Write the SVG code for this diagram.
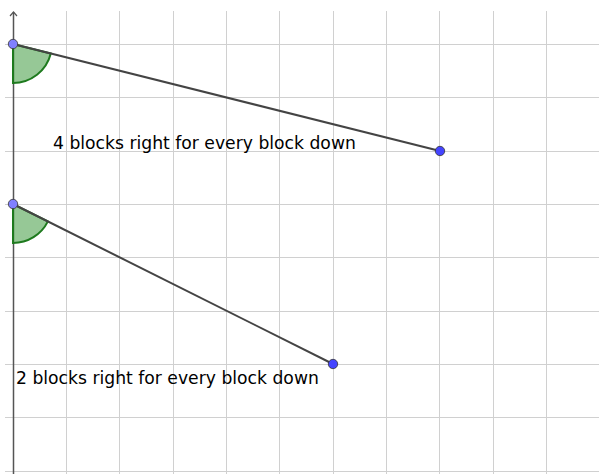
<svg xmlns="http://www.w3.org/2000/svg" width="599" height="474" viewBox="0 0 599 474">
<style>
.grid line{stroke:#d0d0d0;stroke-width:1}
.seg{stroke:#444;stroke-width:2}
.angle{fill:#3f9a3f;fill-opacity:0.55;stroke:#1e7a1e;stroke-width:2}
.p1{fill:#8080ff;stroke:#333;stroke-width:0.8}
.p2{fill:#4444ff;stroke:#333;stroke-width:0.8}
text{font-family:"DejaVu Sans",sans-serif;font-size:17.2px;fill:#000}
</style>
<rect width="599" height="474" fill="#fff"/>
<g class="grid">
<line x1="66.5" y1="11" x2="66.5" y2="474"/>
<line x1="119.5" y1="11" x2="119.5" y2="474"/>
<line x1="173.5" y1="11" x2="173.5" y2="474"/>
<line x1="226.5" y1="11" x2="226.5" y2="474"/>
<line x1="279.5" y1="11" x2="279.5" y2="474"/>
<line x1="333.5" y1="11" x2="333.5" y2="474"/>
<line x1="386.5" y1="11" x2="386.5" y2="474"/>
<line x1="439.5" y1="11" x2="439.5" y2="474"/>
<line x1="493.5" y1="11" x2="493.5" y2="474"/>
<line x1="546.5" y1="11" x2="546.5" y2="474"/>
<line x1="5" y1="44.5" x2="599" y2="44.5"/>
<line x1="5" y1="97.5" x2="599" y2="97.5"/>
<line x1="5" y1="151.5" x2="599" y2="151.5"/>
<line x1="5" y1="204.5" x2="599" y2="204.5"/>
<line x1="5" y1="257.5" x2="599" y2="257.5"/>
<line x1="5" y1="311.5" x2="599" y2="311.5"/>
<line x1="5" y1="364.5" x2="599" y2="364.5"/>
<line x1="5" y1="417.5" x2="599" y2="417.5"/>
<line x1="5" y1="471.5" x2="599" y2="471.5"/>
</g>
<g id="axis">
<line x1="13.5" y1="12" x2="13.5" y2="474" stroke="#555" stroke-width="1.5"/>
<polyline points="10,16 13.5,12 17,16" fill="none" stroke="#555" stroke-width="1.2"/>
</g>
<g id="angle1"><path class="angle" d="M13,44 L13,83 A39,39 0 0 0 50.8,53.5 Z"/></g>
<g id="angle2"><path class="angle" d="M13,204 L13,243 A39,39 0 0 0 47.9,221.4 Z"/></g>
<g id="connectors">
<line class="seg" x1="13" y1="44" x2="440" y2="151"/>
<line class="seg" x1="13" y1="204" x2="333" y2="364"/>
</g>
<g id="pointA"><circle class="p1" cx="13" cy="44" r="4.7"/></g>
<g id="pointB"><circle class="p2" cx="440" cy="151" r="4.7"/></g>
<g id="pointC"><circle class="p1" cx="13" cy="204" r="4.7"/></g>
<g id="pointD"><circle class="p2" cx="333" cy="364" r="4.7"/></g>
<g id="label1"><text x="53" y="149">4 blocks right for every block down</text></g>
<g id="label2"><text x="16" y="384">2 blocks right for every block down</text></g>
</svg>
